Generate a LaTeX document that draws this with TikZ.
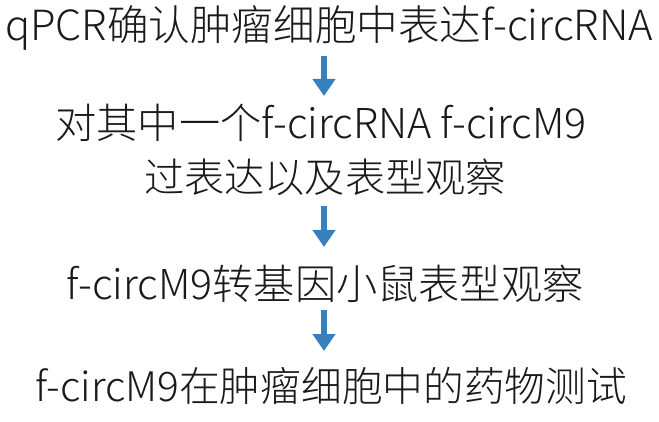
\documentclass[tikz,border=0pt]{standalone}
\usepackage{fontspec}
\setmainfont{Noto Sans CJK SC}[UprightFont={* Light}]
\usetikzlibrary{arrows.meta}
\definecolor{arrowblue}{HTML}{3580BD}
\definecolor{txt}{HTML}{1A1A1A}
\tikzset{
  line/.style={anchor=base, inner sep=0pt, text=txt},
  flowarrow/.style={draw=arrowblue, line width=6pt, -{Triangle[width=22pt,length=17pt]}}
}
\begin{document}
\begin{tikzpicture}[x=1pt,y=1pt]
\useasboundingbox[fill=white] (0,0) rectangle (659,421);
\node[line, font=\fontsize{41.6}{41.6}\selectfont] (l1) at (329,380) {qPCR确认肿瘤细胞中表达f-circRNA};
\node[line, font=\fontsize{41.2}{41.2}\selectfont] (l2) at (321,282) {对其中一个f-circRNA f-circM9};
\node[line, font=\fontsize{40.2}{40.2}\selectfont] (l3) at (325,228) {过表达以及表型观察};
\node[line, font=\fontsize{41.2}{41.2}\selectfont] (l4) at (325,122) {f-circM9转基因小鼠表型观察};
\node[line, font=\fontsize{40.7}{40.7}\selectfont] (l5) at (331,20) {f-circM9在肿瘤细胞中的药物测试};
\coordinate (a1s) at (324,365);
\coordinate (a1e) at (324,325);
\coordinate (a2s) at (324,215);
\coordinate (a2e) at (324,174);
\coordinate (a3s) at (324,111);
\coordinate (a3e) at (324,70);
\draw[flowarrow] (a1s) -- (a1e);
\draw[flowarrow] (a2s) -- (a2e);
\draw[flowarrow] (a3s) -- (a3e);
\end{tikzpicture}
\end{document}
